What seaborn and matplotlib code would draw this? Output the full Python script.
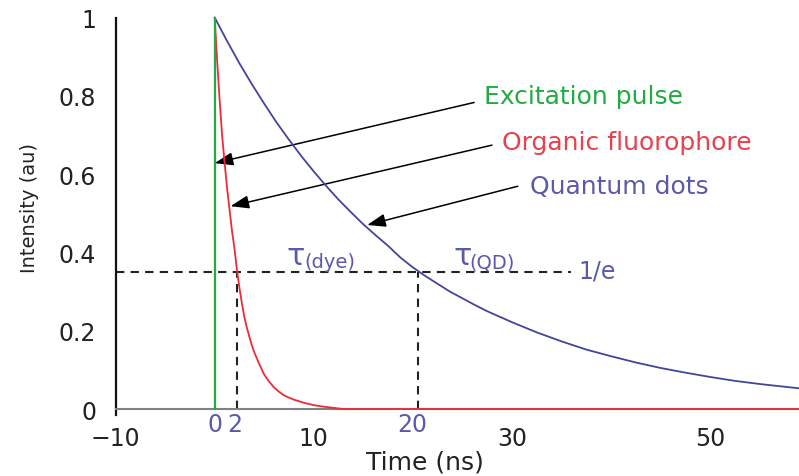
import numpy as np
import pandas as pd
import seaborn as sns
import matplotlib.pyplot as plt

# values
qd_time = [0, 1.25, 2.5, 3.75, 5, 6.25, 7.5, 8.75, 10, 11.25, 12.5, 13.75, 15, 16.25,
           17.5, 18.75, 20, 21.25, 22.5, 23.75, 25, 26.25, 27.5, 28.75, 30, 32.5, 35,
           37.5, 40, 42.5, 45, 47.5, 50, 52.5, 55, 57.5, 59]
qd_int = [1.0, 0.94, 0.883, 0.83, 0.78, 0.732, 0.688, 0.646, 0.607, 0.57, 0.535, 0.503,
          0.472, 0.444, 0.417, 0.387, 0.362, 0.34, 0.32, 0.30, 0.283, 0.266, 0.25,
          0.236, 0.222, 0.196, 0.173, 0.152, 0.135, 0.119, 0.105, 0.093, 0.082, 0.072,
          0.064, 0.057, 0.053]

dye_time = [0, 0.25, 0.5, 0.75, 1.0, 1.25, 1.5, 1.75, 2.0, 2.25, 2.5, 2.75, 3, 3.25,
            3.5, 3.75, 4, 4.5, 5, 5.5, 6, 6.5, 7, 7.5, 8, 9, 10, 11, 12, 13, 59]
dye_int = [1.0, 0.89, 0.79, 0.70, 0.63, 0.565, 0.51, 0.455, 0.41, 0.355, 0.31, 0.27,
           0.235, 0.208, 0.185, 0.163, 0.145, 0.115, 0.088, 0.07, 0.055, 0.044, 0.035,
           0.029, 0.024, 0.016, 0.010, 0.006, 0.003, 0.0, 0.0]

pulse_time = [0, 0]
pulse_int = [0, 1]

one_over_e = 0.35
tau_dye = 2.3
tau_qd = 20.5

x_ticks = [-10, 10, 30, 50]
y_ticks = [0, 0.2, 0.4, 0.6, 0.8, 1]
blue_ticks = [0, 2, 20]

green = "#22aa44"
red = "#ee2a3a"
red_txt = "#e8404c"
blue_line = "#44449a"
blue_txt = "#5a5aaa"

sns.set_style("white")
plt.rcParams["font.family"] = ["DejaVu Sans"]

fig = plt.figure(figsize=(7.99, 4.77), dpi=100)
ax = fig.add_axes([0.1447, 0.1281, 0.8553, 0.8331])

# curves (above the axis line)
sns.lineplot(x=dye_time, y=dye_int, ax=ax, color=red, lw=1.3, estimator=None,
             sort=False, clip_on=False, zorder=4)
sns.lineplot(x=qd_time, y=qd_int, ax=ax, color=blue_line, lw=1.3, estimator=None,
             sort=False, clip_on=False, zorder=4)
sns.lineplot(x=pulse_time, y=pulse_int, ax=ax, color=green, lw=1.6, estimator=None,
             sort=False, clip_on=False, zorder=4)

# 1/e guide lines
dash = (0, (4, 3))
ax.plot([-10, 36], [one_over_e, one_over_e], color="#222222", lw=1.5, ls=dash)
ax.plot([tau_dye, tau_dye], [0, one_over_e], color="#222222", lw=1.5, ls=dash)
ax.plot([tau_qd, tau_qd], [0, one_over_e], color="#222222", lw=1.5, ls=dash)

ax.set_xlim(-10, 59)
ax.set_ylim(-0.015, 1.0)

# axes look
ax.spines["top"].set_visible(False)
ax.spines["right"].set_visible(False)
ax.spines["bottom"].set_position(("data", 0))
ax.spines["bottom"].set_color("#808080")
ax.spines["bottom"].set_linewidth(1.5)
ax.spines["left"].set_color("#111111")
ax.spines["left"].set_linewidth(1.6)

ax.set_xticks(x_ticks)
ax.set_xticklabels([f"{t}".replace("-", "\u2212") for t in x_ticks])
ax.set_yticks(y_ticks)
ax.set_yticklabels([f"{t:g}" for t in y_ticks])
ax.tick_params(axis="x", direction="in", length=6, width=1.3, color="#808080",
               labelsize=17, pad=12, labelcolor="#222222")
ax.tick_params(axis="y", direction="out", length=8, width=1.3, color="#555555",
               labelsize=17, pad=6, labelcolor="#222222")

for t in blue_ticks:
    ax.text(t, -0.056, str(t), color=blue_txt, fontsize=17, ha="center", va="baseline")

ax.set_xlabel("Time (ns)", fontsize=18, color="#222222")
ax.xaxis.set_label_coords(0.452, -0.118)
ax.xaxis.label.set_va("center")
ax.set_ylabel("Intensity (au)", fontsize=14, color="#222222")
ax.yaxis.set_label_coords(-0.1265, 0.522)
ax.yaxis.label.set_va("center")

# labels with arrows
arrow = dict(arrowstyle="-|>,head_length=0.7,head_width=0.25", color="black", lw=1.1,
             mutation_scale=16, shrinkA=0, shrinkB=0)
ax.annotate("", xy=(0, 0.628), xytext=(26.2, 0.783), arrowprops=arrow)
ax.annotate("", xy=(1.6, 0.518), xytext=(28.0, 0.674), arrowprops=arrow)
ax.annotate("", xy=(15.4, 0.47), xytext=(30.6, 0.569), arrowprops=arrow)

ax.text(27.2, 0.782, "Excitation pulse", color=green, fontsize=18, va="baseline")
ax.text(29.0, 0.664, "Organic fluorophore", color=red_txt, fontsize=18, va="baseline")
ax.text(31.8, 0.553, "Quantum dots", color=blue_txt, fontsize=18, va="baseline")

# lifetime labels: tau with a small subscript
ax.text(7.27, 0.371, "\u03c4", color=blue_txt, fontsize=22, va="baseline")
ax.text(9.1, 0.362, "(dye)", color=blue_txt, fontsize=14, va="baseline")
ax.text(24.08, 0.371, "\u03c4", color=blue_txt, fontsize=22, va="baseline")
ax.text(25.76, 0.362, "(QD)", color=blue_txt, fontsize=14, va="baseline")
ax.text(36.7, 0.335, "1/e", color=blue_txt, fontsize=17, va="baseline")

fig.savefig("out.png", dpi=100)
